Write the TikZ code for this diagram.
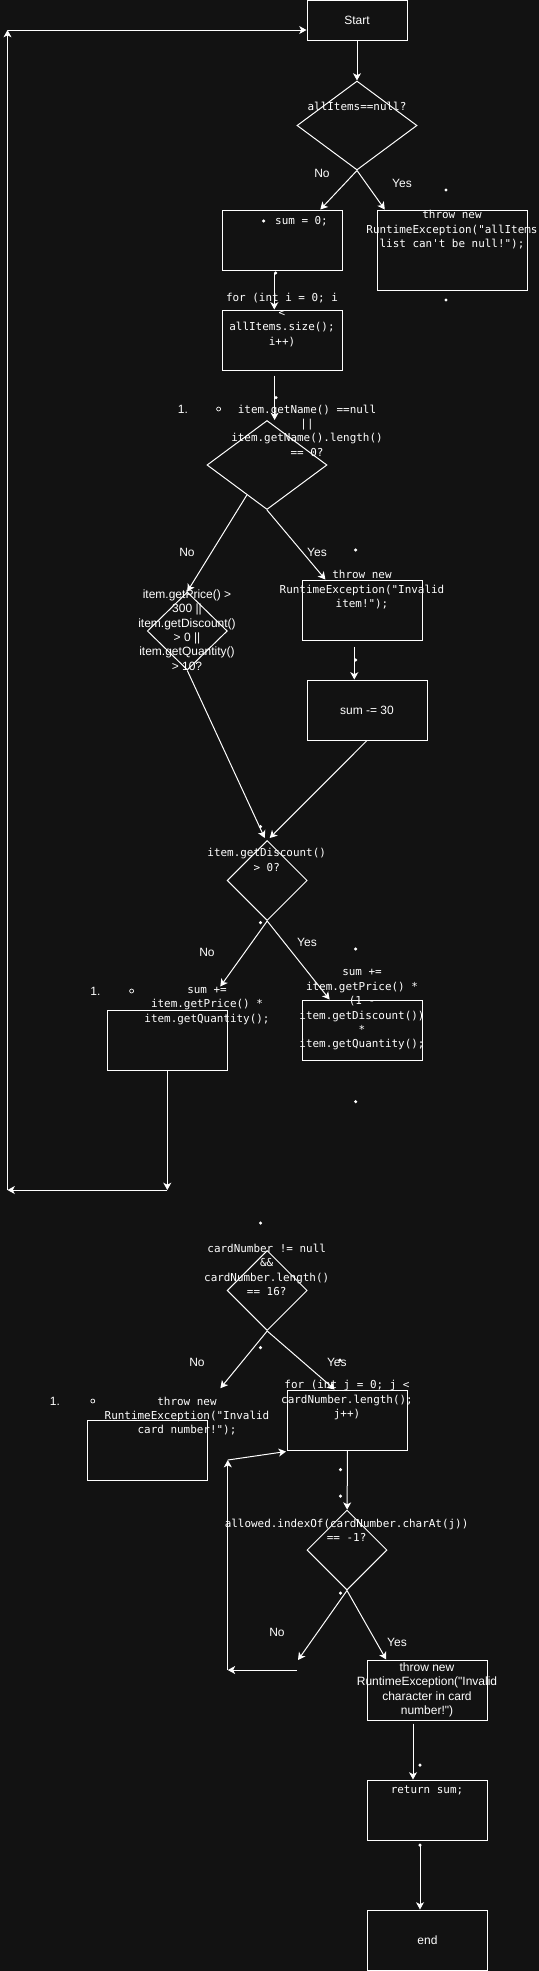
\documentclass[tikz,border=0pt]{standalone}
\usepackage{fontspec}
\usepackage{tikz}
\usetikzlibrary{shapes.geometric, arrows.meta, positioning, calc}
\setmonofont{DejaVu Sans Mono}
\newfontfamily\sansf{Liberation Sans}
\definecolor{bgdark}{HTML}{121212}

\tikzset{
    box/.style={draw=white, line width=0.75pt, minimum width=90pt, minimum height=45pt, inner sep=0pt},
    decision/.style={diamond, draw=white, line width=0.75pt, inner sep=0pt, minimum width=60pt, minimum height=60pt},
    codetext/.style={text=white, align=center, inner sep=0pt, font=\ttfamily\fontsize{8.2}{10.8}\selectfont},
    sanstext/.style={text=white, align=center, inner sep=0pt, font=\sansf\fontsize{9}{10.8}\selectfont},
    arr/.style={draw=white, line width=0.75pt, -{Stealth[length=5.5pt, width=6pt, inset=1.5pt]}}
}

\begin{document}
\begin{tikzpicture}[x=0.75pt, y=-0.75pt]
\path[use as bounding box, fill=bgdark] (0,0) rectangle (539,1971);

% Items loop
\node[box, sanstext, minimum width=75pt, minimum height=30pt] (start) at (357,20.5) {Start};
\node[decision, minimum width=90pt, minimum height=66.75pt] (nullchk) at (357,125.5) {};
\node[codetext] (nullchktxt) at (357,106) {allItems==null?};
\node[box] (sumzero) at (282.3,240) {};
\node[codetext] (sumzerotxt) at (301.5,221) {sum = 0;};
\node[box, minimum width=112.5pt, minimum height=60pt] (listerr) at (452.3,250) {};
\node[codetext] (listerrtxt) at (452,230) {throw new\\RuntimeException("allItems\\list can't be null!");};
\node[box] (forall) at (282.3,340) {};
\node[codetext] (foralltxt) at (282,320) {for (int i = 0; i\\<\\allItems.size();\\i++)};
\node[decision, minimum width=90pt, minimum height=66.75pt] (namechk) at (267,465) {};
\node[codetext] (namechktxt) at (307,430.5) {item.getName() ==null\\||\\item.getName().length()\\== 0?};
\node[sanstext] (namenum) at (183,409) {1.};
\node[box] (itemerr) at (362.5,610) {};
\node[codetext] (itemerrtxt) at (362,590) {throw new\\RuntimeException("Invalid\\item!");};
\node[box, sanstext] (minus) at (367,710) {sum -= 30};
\node[decision, minimum height=58.5pt] (rangechk) at (187.3,631) {};
\node[sanstext] (rangechktxt) at (187,630) {item.getPrice() >\\300 ||\\item.getDiscount()\\> 0 ||\\item.getQuantity()\\> 10?};
\node[decision] (discchk) at (267.2,880.5) {};
\node[codetext] (discchktxt) at (266.7,860) {item.getDiscount()\\> 0?};
\node[box] (addplain) at (167.3,1040) {};
\node[codetext] (addplaintxt) at (207,1006) {sum +=\\item.getPrice() *\\item.getQuantity();};
\node[sanstext] (addnum) at (95.5,991) {1.};
\node[box] (adddisc) at (362.5,1030) {};
\node[codetext] (adddisctxt) at (362,1010) {sum +=\\item.getPrice() *\\(1 -\\item.getDiscount())\\*\\item.getQuantity();};

% Card check
\node[decision] (cardchk) at (267.2,1290.5) {};
\node[codetext] (cardchktxt) at (266.7,1270) {cardNumber != null\\\&\&\\cardNumber.length()\\== 16?};
\node[box] (carderr) at (147.5,1450) {};
\node[codetext] (carderrtxt) at (187,1416) {throw new\\RuntimeException("Invalid\\card number!");};
\node[sanstext] (cardnum) at (55,1401) {1.};
\node[box] (forchar) at (347.5,1420) {};
\node[codetext] (forchartxt) at (347,1400) {for (int j = 0; j <\\cardNumber.length();\\j++)};
\node[decision] (charchk) at (347,1550) {};
\node[codetext] (charchktxt) at (346.6,1530) {allowed.indexOf(cardNumber.charAt(j))\\== -1?};
\node[box] (charerr) at (427.5,1690) {};
\node[sanstext] (charerrtxt) at (427,1690) {throw new\\RuntimeException("Invalid\\character in card\\number!")};
\node[box] (ret) at (427.5,1810) {};
\node[codetext] (rettxt) at (427,1790) {return sum;};
\node[box, sanstext] (finish) at (427.5,1940) {end};

% Free ends
\coordinate (s0) at ($(sumzero.south)+(-8,2)$);
\coordinate (f0) at ($(forall.south)+(-7.7,5)$);
\coordinate (e0) at ($(itemerr.south)+(-8.2,6)$);
\coordinate (lp1) at (167.3,1190);
\coordinate (lp2) at (7.5,1190);
\coordinate (lp3) at (7.5,30);
\coordinate (nc) at (298,1660);
\coordinate (lb1) at (297,1670);
\coordinate (lb2) at (227.8,1670);
\coordinate (lb3) at (227.8,1460);
\coordinate (c0) at ($(charerr.south)+(-14.5,3)$);
\coordinate (r0) at ($(ret.south)+(-7.5,5)$);

% Connectors
\draw[arr] (start) -- (nullchk);
\draw[arr] (nullchk.south) -- ($(sumzero.north)+(38,0)$);
\draw[arr] (nullchk.south) -- ($(listerr.north west)+(8,0)$);
\draw[arr] (s0) -- (s0 |- forall.north);
\draw[arr] (f0) -- (f0 |- namechk.north);
\draw[arr] ($(namechk.west)!0.667!(namechk.south)$) -- (rangechk.north);
\draw[arr] (namechk.south) -- ($(itemerr.north west)+(23.4,0)$);
\draw[arr] (e0) -- (e0 |- minus.north);
\draw[arr] (rangechk.south) -- ($(discchk.north)+(-2.5,-2)$);
\draw[arr] (minus.south) -- ($(discchk.north)+(2.5,-2)$);
\draw[arr] (discchk.south) -- ($(addplain.north east)+(-7.5,-23)$);
\draw[arr] (discchk.south) -- ($(adddisc.north west)+(27.6,0)$);
\draw[arr] (addplain.south) -- (lp1);
\draw[arr] (lp1) -- (lp2);
\draw[arr] (lp2) -- (lp3);
\draw[arr] (lp3) -- (lp3 -| start.west);
\draw[arr] (cardchk.south) -- ($(carderr.north east)+(12.4,-31.3)$);
\draw[arr] (cardchk.south) -- ($(forchar.north west)+(47.7,0)$);
\draw[arr] (forchar) -- (charchk);
\draw[arr] (charchk.south) -- (nc);
\draw[arr] (lb1) -- (lb2);
\draw[arr] (lb2) -- (lb3);
\draw[arr] (lb3) -- ($(forchar.south west)+(-1,1)$);
\draw[arr] (charchk.south) -- ($(charerr.north west)+(19.2,0)$);
\draw[arr] (c0) -- (c0 |- ret.north);
\draw[arr] (r0) -- (r0 |- finish.north);

% Branch labels
\node[sanstext] (no1) at (322,173) {No};
\node[sanstext] (yes1) at (402,183) {Yes};
\node[sanstext] (no2) at (187,552.7) {No};
\node[sanstext] (yes2) at (317,552.7) {Yes};
\node[sanstext] (no3) at (207,952.7) {No};
\node[sanstext] (yes3) at (307,942.7) {Yes};
\node[sanstext] (no4) at (197,1362.7) {No};
\node[sanstext] (yes4) at (336.8,1362.7) {Yes};
\node[sanstext] (no5) at (277,1632.7) {No};
\node[sanstext] (yes5) at (397,1642.7) {Yes};

% Bullets
\foreach \px/\py in {263.6/221, 446/190, 446/300, 275.6/273, 276/397.7, 355.7/550,
    355.7/660, 260.5/826.7, 260.5/922.7, 355.7/949, 355.7/1101.7, 260.5/1223,
    260.5/1347.7, 340/1360, 340.5/1469.7, 340.5/1496, 340.5/1593, 420/1765, 420/1845} {
    \fill[white] (\px,\py) circle[radius=1.3pt];
}
\foreach \px/\py in {218.6/409, 131.6/991, 92.8/1401} {
    \draw[white, line width=0.5pt] (\px,\py) circle[radius=1.5pt];
}
\end{tikzpicture}
\end{document}
